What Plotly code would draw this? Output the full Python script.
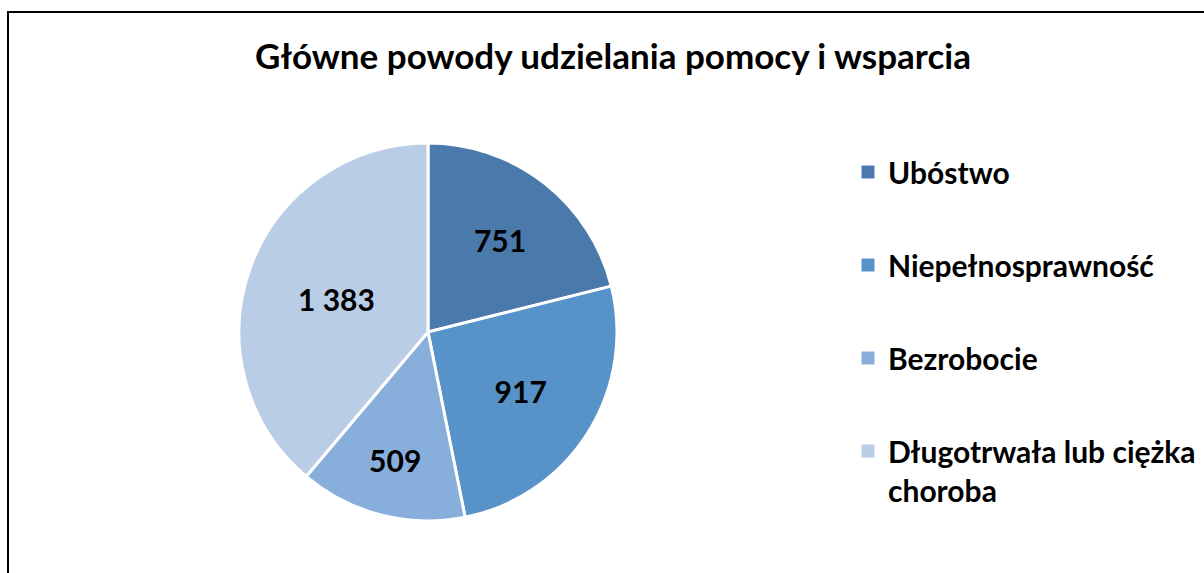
import plotly.graph_objects as go

title = "Główne powody udzielania pomocy i wsparcia"
categories = ["Ubóstwo", "Niepełnosprawność", "Bezrobocie", "Długotrwała lub ciężka choroba"]
values = [751, 917, 509, 1383]
colors = ["#4a7aab", "#5793c9", "#88afdc", "#b9cde6"]

W, H = 1204, 573
FONT = "Lato"

cx, cy, r = 428, 332, 189

fig = go.Figure()
fig.add_trace(go.Pie(
    labels=categories,
    values=values,
    sort=False,
    direction="clockwise",
    rotation=0,
    showlegend=False,
    marker=dict(colors=colors, line=dict(color="white", width=3)),
    texttemplate="%{value:,}",
    textposition="inside",
    insidetextorientation="horizontal",
    textfont=dict(family=FONT, size=30, color="black", weight="bold"),
    hovertemplate="%{label}: %{value:,}<extra></extra>",
    domain=dict(x=[(cx - r) / W, (cx + r) / W], y=[(H - cy - r) / H, (H - cy + r) / H]),
))

# legend entries (one group per category for spacing)
for i, (c, col) in enumerate(zip(categories, colors)):
    name = "Długotrwała lub ciężka<br>choroba" if c.startswith("Długotrwała") else c
    fig.add_trace(go.Scatter(
        x=[None], y=[None], mode="markers", name=name,
        legendgroup=f"g{i}",
        marker=dict(symbol="square", size=13, color=col),
        hoverinfo="skip",
    ))

fig.update_layout(
    width=W, height=H,
    margin=dict(l=0, r=0, t=0, b=0),
    paper_bgcolor="white",
    plot_bgcolor="white",
    separators=", ",
    xaxis=dict(visible=False),
    yaxis=dict(visible=False),
    title=dict(text=title, x=613 / W, xanchor="center", y=1 - 57 / H, yanchor="middle",
               font=dict(family=FONT, size=35, color="black", weight="bold")),
    legend=dict(x=848 / W, xanchor="left", y=1 - 146 / H, yanchor="top", valign="top",
                font=dict(family=FONT, size=30, color="black", weight="bold"),
                tracegroupgap=51, itemclick=False, itemdoubleclick=False,
                bgcolor="rgba(0,0,0,0)"),
    shapes=[dict(type="rect", xref="paper", yref="paper",
                 x0=8 / W, x1=1.02, y0=-0.02, y1=1 - 12 / H,
                 line=dict(color="black", width=2), fillcolor="rgba(0,0,0,0)")],
)

fig.write_html("out.html", config={"displayModeBar": False},
               post_script="document.body.style.margin='0';")
